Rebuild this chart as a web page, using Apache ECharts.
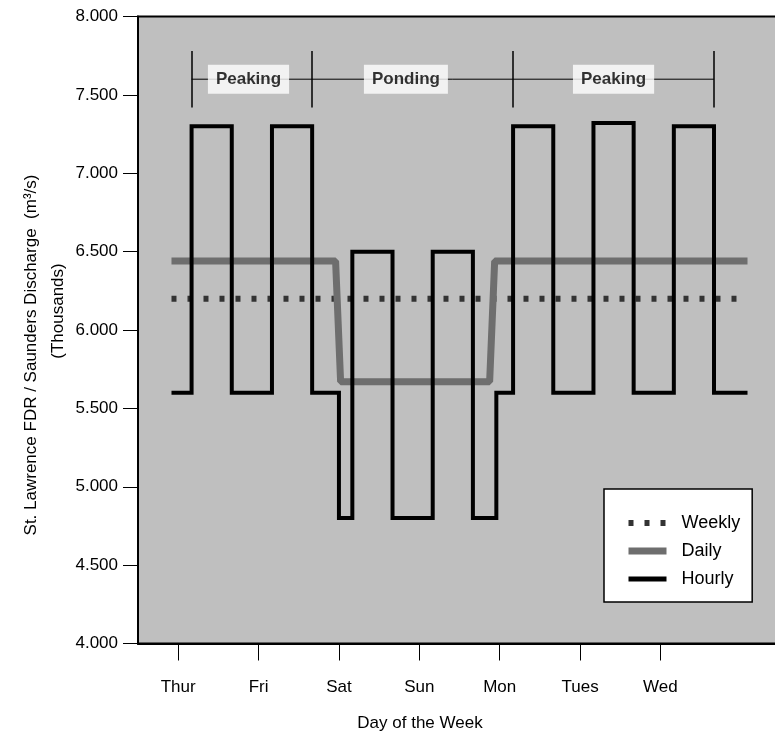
<!DOCTYPE html>
<html><head><meta charset="utf-8">
<script src="https://cdn.jsdelivr.net/npm/echarts@6/dist/echarts.min.js"></script>
<style>html,body{margin:0;padding:0;background:#fff}#c{width:775px;height:750px}</style>
</head><body><div id="c"></div><script>
// ---- data (hours from the left edge of the axis; value in thousands m3/s) ----
const dayLabels = ['Thur', 'Fri', 'Sat', 'Sun', 'Mon', 'Tues', 'Wed'];
const dayTickHours = [12, 36, 60, 84, 108, 132, 156];
const hourlyHours  = [10, 16, 28, 40, 52, 60, 64, 76, 88, 100, 107, 112, 124, 136, 148, 160, 172, 182];
const hourlyValues = [5.6, 7.3, 5.6, 7.3, 5.6, 4.8, 6.5, 4.8, 6.5, 4.8, 5.6, 7.3, 5.6, 7.32, 5.6, 7.3, 5.6, 5.6];
const dailyHours   = [10, 59, 60.5, 105, 106.5, 182];
const dailyValues  = [6.44, 6.44, 5.67, 5.67, 6.44, 6.44];
const weeklyHours  = [10, 182];
const weeklyValues = [6.2, 6.2];
const bracketHours = [16, 52, 112, 172];
const bracketLevel = 7.6, bracketLow = 7.42, bracketHigh = 7.78;
const phaseNames   = ['Peaking', 'Ponding', 'Peaking'];
const phaseCenters = [33, 80, 142];
const yTitle1 = 'St. Lawrence FDR / Saunders Discharge  (m\u00b3/s)';
const yTitle2 = '(Thousands)';
const xTitle = 'Day of the Week';

const SANS = "'Liberation Sans',Arial,Helvetica,sans-serif";
const pts = (xs, ys) => xs.map((x, i) => [x, ys[i]]);
const weeklyStyle = {color: '#333', width: 6, type: [5, 11], cap: 'butt'};
const dailyStyle  = {color: '#6e6e6e', width: 7};
const hourlyStyle = {color: '#000', width: 4, join: 'miter'};

const chart = echarts.init(document.getElementById('c'), null, {renderer: 'canvas'});
chart.setOption({
  animation: false,
  backgroundColor: '#ffffff',
  grid: {left: 138, top: 16.5, width: 643, height: 627, show: true, backgroundColor: '#bfbfbf',
         borderColor: '#000', borderWidth: 2, containLabel: false, outerBoundsMode: 'none'},
  xAxis: {
    type: 'value', min: 0, max: 192,
    axisLine: {show: true, onZero: false, lineStyle: {color: '#000', width: 2}},
    axisTick: {show: true, customValues: dayTickHours, length: 17, lineStyle: {color: '#000', width: 1}},
    axisLabel: {customValues: dayTickHours, formatter: v => dayLabels[dayTickHours.indexOf(v)] || '',
                margin: 35, color: '#000', fontFamily: SANS, fontSize: 17},
    splitLine: {show: false}
  },
  yAxis: {
    type: 'value', min: 4, max: 8, interval: 0.5,
    axisLine: {show: true, lineStyle: {color: '#000', width: 2}},
    axisTick: {show: true, length: 15, lineStyle: {color: '#000', width: 1}},
    axisLabel: {formatter: v => v.toFixed(3), margin: 20, color: '#000', fontFamily: SANS, fontSize: 17},
    splitLine: {show: false}
  },
  legend: {
    data: [
      {name: 'Weekly', lineStyle: Object.assign({}, weeklyStyle)},
      {name: 'Daily', lineStyle: Object.assign({}, dailyStyle)},
      {name: 'Hourly', lineStyle: {color: '#000', width: 5}}
    ],
    orient: 'vertical', left: 604, top: 489,
    padding: [25, 12, 14, 21], backgroundColor: '#fff', borderColor: '#000', borderWidth: 1.5,
    itemWidth: 38, itemHeight: 14, itemGap: 10, selectedMode: false,
    formatter: n => '  ' + n,
    itemStyle: {color: 'transparent', borderWidth: 0, opacity: 0},
    textStyle: {fontFamily: SANS, fontSize: 18, color: '#000'}
  },
  graphic: [
    {type: 'text', x: 31, y: 355, rotation: Math.PI / 2,
     style: {text: yTitle1, font: "17px 'Liberation Sans', Arial, sans-serif", fill: '#000', textAlign: 'center', textVerticalAlign: 'middle'}},
    {type: 'text', x: 58, y: 311, rotation: Math.PI / 2,
     style: {text: yTitle2, font: "17px 'Liberation Sans', Arial, sans-serif", fill: '#000', textAlign: 'center', textVerticalAlign: 'middle'}},
    {type: 'text', x: 420, y: 723,
     style: {text: xTitle, font: "17px 'Liberation Sans', Arial, sans-serif", fill: '#000', textAlign: 'center', textVerticalAlign: 'middle'}}
  ],
  series: [
    {name: 'Weekly', type: 'line', data: pts(weeklyHours, weeklyValues), symbol: 'none', z: 2,
     itemStyle: {color: '#333'}, lineStyle: weeklyStyle},
    {name: 'Daily', type: 'line', data: pts(dailyHours, dailyValues), symbol: 'none', z: 3,
     itemStyle: {color: '#6e6e6e'}, lineStyle: dailyStyle},
    {name: 'Hourly', type: 'line', step: 'end', data: pts(hourlyHours, hourlyValues), symbol: 'none', z: 4,
     itemStyle: {color: '#000'}, lineStyle: hourlyStyle},
    {name: 'phases', type: 'line', data: [[bracketHours[0], bracketLevel], [bracketHours[bracketHours.length - 1], bracketLevel]],
     symbol: 'none', silent: true, z: 5, lineStyle: {color: '#000', width: 1},
     markLine: {symbol: 'none', silent: true, label: {show: false}, lineStyle: {color: '#000', width: 1.5, type: 'solid'},
                data: bracketHours.map(h => [{coord: [h, bracketLow]}, {coord: [h, bracketHigh]}])}},
    {name: 'phaseLabels', type: 'scatter', symbolSize: 1, silent: true, z: 6, itemStyle: {color: 'transparent'},
     data: phaseCenters.map((h, i) => ({value: [h, bracketLevel], label: {formatter: phaseNames[i]}})),
     label: {show: true, position: 'inside', fontFamily: SANS, fontWeight: 'bold', fontSize: 17, color: '#000',
             backgroundColor: '#fff', padding: [6, 8]}}
  ]
});
</script></body></html>
